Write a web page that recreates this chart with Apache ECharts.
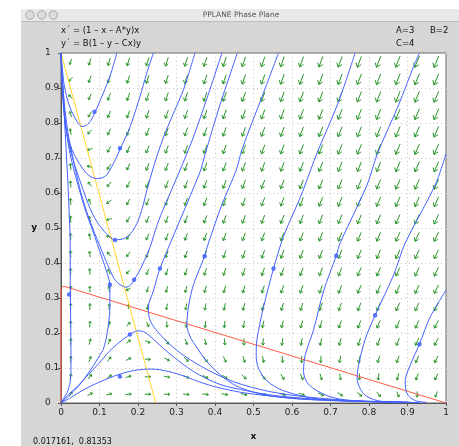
<!DOCTYPE html>
<html>
<head>
<meta charset="utf-8">
<script src="https://cdn.jsdelivr.net/npm/echarts@6/dist/echarts.min.js"></script>
<style>
  html, body { margin: 0; padding: 0; background: #fff; }
  #chart { width: 459px; height: 446px; }
</style>
</head>
<body>
<div id="chart"></div>
<script>
// system parameters shown in the window
const paramA = 3
const paramB = 2
const paramC = 4

// direction field sample points
const fieldX = [0.025, 0.075, 0.125, 0.175, 0.225, 0.275, 0.325, 0.375, 0.425, 0.475,
  0.525, 0.575, 0.625, 0.675, 0.725, 0.775, 0.825, 0.875, 0.925, 0.975]
const fieldY = [0.025, 0.075, 0.125, 0.175, 0.225, 0.275, 0.325, 0.375, 0.425, 0.475,
  0.525, 0.575, 0.625, 0.675, 0.725, 0.775, 0.825, 0.875, 0.925, 0.975]

// nullclines
const xNullcline = [[0, 0], [0, 0.327], [0.006, 0.334], [1, 0]]
const yNullcline = [[0, 1], [0.246, 0]]

// solution curves
const trajTop1 = [[0, 1], [0.004, 0.95], [0.008, 0.91], [0.016, 0.87], [0.025, 0.84], [0.036, 0.815], [0.046, 0.798],
  [0.054, 0.79], [0.066, 0.793], [0.078, 0.808], [0.088, 0.83], [0.104, 0.87], [0.119, 0.91], [0.132, 0.95], [0.145, 1]]
const trajTop2 = [[0, 1], [0.002, 0.93], [0.006, 0.85], [0.015, 0.77], [0.028, 0.725], [0.041, 0.696], [0.055, 0.672],
  [0.067, 0.655], [0.08, 0.645], [0.093, 0.641], [0.106, 0.643], [0.119, 0.652], [0.136, 0.684], [0.153, 0.724],
  [0.179, 0.788], [0.205, 0.875], [0.222, 0.94], [0.24, 1]]
const trajTop3 = [[0, 1], [0.003, 0.92], [0.008, 0.84], [0.015, 0.77], [0.025, 0.72], [0.036, 0.678], [0.062, 0.595],
  [0.08, 0.545], [0.097, 0.512], [0.118, 0.484], [0.14, 0.466], [0.166, 0.471], [0.185, 0.49], [0.2, 0.52],
  [0.212, 0.56], [0.226, 0.62], [0.249, 0.705], [0.27, 0.77], [0.295, 0.835], [0.318, 0.895], [0.348, 1]]
const trajTop4 = [[0, 1], [0.004, 0.92], [0.01, 0.84], [0.02, 0.76], [0.035, 0.68], [0.052, 0.6], [0.072, 0.53],
  [0.093, 0.47], [0.108, 0.43], [0.125, 0.385], [0.14, 0.352], [0.155, 0.337], [0.169, 0.331], [0.18, 0.336],
  [0.19, 0.352], [0.205, 0.38], [0.217, 0.408], [0.231, 0.444], [0.25, 0.51], [0.268, 0.56], [0.314, 0.678],
  [0.344, 0.76], [0.379, 0.87], [0.418, 1]]
const trajTop5 = [[0.458, 1], [0.413, 0.852], [0.374, 0.71], [0.361, 0.66], [0.257, 0.384], [0.24, 0.32],
  [0.227, 0.274], [0.228, 0.25], [0.235, 0.228], [0.25, 0.205], [0.28, 0.17], [0.32, 0.135], [0.38, 0.095],
  [0.45, 0.06], [0.54, 0.033], [0.64, 0.017], [0.76, 0.007], [0.93, 0.001]]
const trajTop6 = [[0.565, 1], [0.522, 0.875], [0.47, 0.724], [0.455, 0.665], [0.418, 0.567], [0.383, 0.457],
  [0.37, 0.411], [0.344, 0.338], [0.331, 0.274], [0.327, 0.223], [0.333, 0.195], [0.344, 0.173], [0.387, 0.108],
  [0.448, 0.053], [0.517, 0.026], [0.6, 0.013], [0.7, 0.007], [0.8, 0.004], [0.93, 0.001]]
const trajTop7 = [[0.764, 1], [0.721, 0.861], [0.665, 0.714], [0.634, 0.623], [0.621, 0.586], [0.578, 0.476],
  [0.552, 0.384], [0.526, 0.274], [0.509, 0.182], [0.507, 0.136], [0.513, 0.099], [0.535, 0.063], [0.578, 0.035],
  [0.665, 0.012], [0.78, 0.005], [0.93, 0.001]]
const trajTop8 = [[0.931, 1], [0.916, 0.962], [0.877, 0.852], [0.821, 0.71], [0.795, 0.623], [0.725, 0.457],
  [0.715, 0.421], [0.682, 0.32], [0.656, 0.209], [0.634, 0.136], [0.63, 0.09], [0.643, 0.053], [0.691, 0.021],
  [0.751, 0.007], [0.85, 0.003], [0.93, 0.001]]
const trajRight1 = [[1, 0.712], [0.972, 0.623], [0.894, 0.457], [0.864, 0.366], [0.816, 0.251], [0.79, 0.182],
  [0.773, 0.108], [0.769, 0.072], [0.786, 0.026], [0.821, 0.007], [0.864, 0.003], [0.93, 0.001]]
const trajRight2 = [[1, 0.322], [0.959, 0.246], [0.931, 0.168], [0.907, 0.108], [0.894, 0.063], [0.899, 0.026],
  [0.92, 0.007], [0.95, 0.002]]
const trajAxis = [[0, 0], [0.008, 0.015], [0.018, 0.035], [0.025, 0.07], [0.026, 0.12], [0.025, 0.25],
  [0.024, 0.35], [0.024, 0.45], [0.021, 0.55], [0.017, 0.65], [0.012, 0.75], [0.007, 0.85], [0.003, 0.93], [0, 1]]
const trajLeft = [[0, 0], [0.02, 0.02], [0.049, 0.053], [0.08, 0.1], [0.1, 0.135], [0.11, 0.154], [0.12, 0.2],
  [0.127, 0.274], [0.127, 0.338], [0.12, 0.37], [0.108, 0.41], [0.095, 0.452], [0.08, 0.5], [0.065, 0.545],
  [0.05, 0.6], [0.035, 0.66], [0.022, 0.72], [0.012, 0.8], [0.005, 0.9], [0, 1]]
const trajHump1 = [[0, 0], [0.02, 0.025], [0.045, 0.05], [0.071, 0.081], [0.1, 0.115], [0.123, 0.145],
  [0.15, 0.172], [0.179, 0.196], [0.199, 0.206], [0.218, 0.202], [0.249, 0.173], [0.283, 0.14], [0.344, 0.09],
  [0.413, 0.053], [0.483, 0.035], [0.55, 0.022], [0.65, 0.012], [0.78, 0.005], [0.93, 0.001]]
const trajHump2 = [[0, 0], [0.025, 0.015], [0.054, 0.035], [0.1, 0.06], [0.149, 0.081], [0.19, 0.093],
  [0.235, 0.097], [0.28, 0.09], [0.322, 0.076], [0.36, 0.06], [0.405, 0.045], [0.47, 0.03], [0.535, 0.021],
  [0.62, 0.012], [0.708, 0.007], [0.8, 0.004], [0.93, 0.001]]

// small circles marked on the curves
const markedPoints = [[0.087, 0.832], [0.153, 0.728], [0.14, 0.466], [0.19, 0.352], [0.257, 0.384],
  [0.021, 0.31], [0.127, 0.338], [0.179, 0.196], [0.153, 0.076], [0.373, 0.419], [0.552, 0.384],
  [0.715, 0.421], [0.816, 0.251], [0.931, 0.168]]

const trajectories = [trajTop1, trajTop2, trajTop3, trajTop4, trajTop5, trajTop6, trajTop7, trajTop8,
  trajRight1, trajRight2, trajAxis, trajLeft, trajHump1, trajHump2]

// x' = (1 - x - A*y)x ,  y' = B(1 - y - Cx)y
function xPrime(x, y) { return (1 - x - paramA * y) * x }
function yPrime(x, y) { return paramB * (1 - y - paramC * x) * y }

const gridW = 385
const gridH = 363
let fieldData = []
let maxMag = 0
fieldX.forEach(fx => {
  fieldY.forEach(fy => {
    const u = xPrime(fx, fy)
    const v = yPrime(fx, fy)
    fieldData.push([fx, fy, u, v])
    maxMag = Math.max(maxMag, Math.hypot(u * gridW, v * gridH))
  })
})

function renderArrow(params, api) {
  const p = api.coord([api.value(0), api.value(1)])
  const s = api.size([1, 1])
  let dx = api.value(2) * s[0]
  let dy = -api.value(3) * s[1]
  const mag = Math.hypot(dx, dy)
  if (mag === 0) return
  const len = 3.5 + 9 * Math.pow(mag / maxMag, 1 / 3)
  dx /= mag
  dy /= mag
  const x1 = p[0] - dx * len / 2
  const y1 = p[1] - dy * len / 2
  const x2 = p[0] + dx * len / 2
  const y2 = p[1] + dy * len / 2
  const h = Math.max(2.4, len * 0.4)
  const a = Math.PI / 5
  const bx = -dx
  const by = -dy
  const w1 = [x2 + h * (bx * Math.cos(a) - by * Math.sin(a)), y2 + h * (bx * Math.sin(a) + by * Math.cos(a))]
  const w2 = [x2 + h * (bx * Math.cos(a) + by * Math.sin(a)), y2 + h * (-bx * Math.sin(a) + by * Math.cos(a))]
  return {
    type: 'group',
    children: [
      { type: 'line', shape: { x1: x1, y1: y1, x2: x2, y2: y2 }, style: { stroke: '#2a952a', lineWidth: 1 } },
      { type: 'polyline', shape: { points: [w1, [x2, y2], w2] }, style: { stroke: '#2a952a', fill: null, lineWidth: 1 } },
    ],
  }
}

const labelFont = 'DejaVu Sans, Lucida Grande, sans-serif'
const chart = echarts.init(document.getElementById('chart'))

let series = [
  {
    type: 'custom',
    renderItem: renderArrow,
    data: fieldData,
    silent: true,
    z: 1,
  },
]
trajectories.forEach(t => {
  series.push({
    type: 'line',
    data: t,
    showSymbol: false,
    smooth: 0.3,
    lineStyle: { color: '#4562ff', width: 1 },
    silent: true,
    z: 3,
  })
})
series.push({
  type: 'line',
  data: xNullcline,
  showSymbol: false,
  lineStyle: { color: '#ff5b45', width: 1 },
  silent: true,
  z: 2,
})
series.push({
  type: 'line',
  data: yNullcline,
  showSymbol: false,
  lineStyle: { color: '#ffd42a', width: 1 },
  silent: true,
  z: 2,
})
series.push({
  type: 'scatter',
  data: markedPoints,
  symbol: 'emptyCircle',
  symbolSize: 2.5,
  itemStyle: { color: '#3050ff', borderColor: '#3050ff', borderWidth: 0.8 },
  silent: true,
  z: 4,
})

chart.setOption({
  animation: false,
  backgroundColor: '#fff',
  graphic: [
    { type: 'rect', z: -100, shape: { x: 21, y: 9, width: 438, height: 437 }, style: { fill: '#d6d6d6' } },
    { type: 'rect', z: -99, shape: { x: 21, y: 9, width: 438, height: 13 }, style: { fill: '#e9e9e9' } },
    { type: 'rect', z: -99, shape: { x: 21, y: 21, width: 438, height: 1 }, style: { fill: '#bdbdbd' } },
    { type: 'circle', z: -98, shape: { cx: 30, cy: 15, r: 4.2 }, style: { fill: '#dcdcdc', stroke: '#a9a9a9', lineWidth: 1 } },
    { type: 'circle', z: -98, shape: { cx: 41.7, cy: 15, r: 4.2 }, style: { fill: '#dcdcdc', stroke: '#a9a9a9', lineWidth: 1 } },
    { type: 'circle', z: -98, shape: { cx: 53.3, cy: 15, r: 4.2 }, style: { fill: '#dcdcdc', stroke: '#a9a9a9', lineWidth: 1 } },
    { type: 'text', z: 100, style: { x: 241, y: 15.5, text: 'PPLANE Phase Plane', fill: '#555', font: '7.5px ' + labelFont, textAlign: 'center', textVerticalAlign: 'middle' } },
    { type: 'text', z: 100, style: { x: 61, y: 31, text: 'x´ = (1 – x – A*y)x', fill: '#111', font: '8.5px ' + labelFont, textVerticalAlign: 'middle' } },
    { type: 'text', z: 100, style: { x: 61, y: 44, text: 'y´ = B(1 – y – Cx)y', fill: '#111', font: '8.5px ' + labelFont, textVerticalAlign: 'middle' } },
    { type: 'text', z: 100, style: { x: 396, y: 31, text: 'A=3', fill: '#111', font: '8.5px ' + labelFont, textVerticalAlign: 'middle' } },
    { type: 'text', z: 100, style: { x: 430, y: 31, text: 'B=2', fill: '#111', font: '8.5px ' + labelFont, textVerticalAlign: 'middle' } },
    { type: 'text', z: 100, style: { x: 396, y: 44, text: 'C=4', fill: '#111', font: '8.5px ' + labelFont, textVerticalAlign: 'middle' } },
    { type: 'text', z: 100, style: { x: 33, y: 441.5, text: '0.017161,  0.81353', fill: '#111', font: '8px ' + labelFont, textVerticalAlign: 'middle' } },
  ],
  grid: {
    left: 61,
    top: 53,
    width: gridW,
    height: gridH,
    show: true,
    backgroundColor: '#fff',
    borderColor: '#666',
    borderWidth: 1,
  },
  xAxis: {
    type: 'value',
    min: 0,
    max: 1,
    interval: 0.1,
    name: 'x',
    nameLocation: 'middle',
    nameGap: 29,
    nameTextStyle: { fontFamily: labelFont, fontSize: 9, fontWeight: 'bold', color: '#111' },
    axisLine: { show: true, lineStyle: { color: '#555' } },
    axisTick: { show: true, length: 3, lineStyle: { color: '#555' } },
    axisLabel: { fontFamily: labelFont, fontSize: 9, color: '#222', margin: 5 },
    splitLine: { show: true, lineStyle: { color: '#c4c4c4', type: [1, 3] } },
  },
  yAxis: {
    type: 'value',
    min: 0,
    max: 1,
    interval: 0.1,
    name: 'y',
    nameLocation: 'middle',
    nameRotate: 0,
    nameGap: 24,
    nameTextStyle: { fontFamily: labelFont, fontSize: 9, fontWeight: 'bold', color: '#111' },
    axisLine: { show: true, lineStyle: { color: '#555' } },
    axisTick: { show: true, length: 3, lineStyle: { color: '#555' } },
    axisLabel: { fontFamily: labelFont, fontSize: 9, color: '#222', margin: 16, align: 'left' },
    splitLine: { show: true, lineStyle: { color: '#c4c4c4', type: [1, 3] } },
  },
  series: series,
})
</script>
</body>
</html>
